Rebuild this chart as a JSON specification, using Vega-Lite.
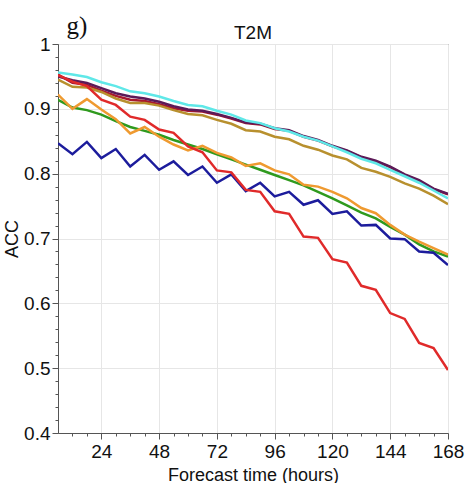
{
  "$schema": "https://vega.github.io/schema/vega-lite/v6.json",
  "autosize": "none",
  "width": 390,
  "height": 389,
  "padding": {"left": 58, "top": 44, "right": 26, "bottom": 50},
  "background": "white",
  "config": {
    "view": {"stroke": "#555555", "strokeWidth": 1},
    "font": "Liberation Sans"
  },
  "title": {"text": "T2M", "font": "Liberation Sans", "fontSize": 19, "fontWeight": "normal", "color": "#111111", "anchor": "middle", "offset": -30},
  "data": {"values": [
    {"s":"darkred","h":6,"v":0.953},{"s":"darkred","h":12,"v":0.940},{"s":"darkred","h":18,"v":0.937},{"s":"darkred","h":24,"v":0.928},{"s":"darkred","h":30,"v":0.920},{"s":"darkred","h":36,"v":0.914},{"s":"darkred","h":42,"v":0.912},{"s":"darkred","h":48,"v":0.907},{"s":"darkred","h":54,"v":0.901},{"s":"darkred","h":60,"v":0.897},{"s":"darkred","h":66,"v":0.896},{"s":"darkred","h":72,"v":0.891},{"s":"darkred","h":78,"v":0.885},{"s":"darkred","h":84,"v":0.878},{"s":"darkred","h":90,"v":0.876},{"s":"darkred","h":96,"v":0.869},{"s":"darkred","h":102,"v":0.866},{"s":"darkred","h":108,"v":0.857},{"s":"darkred","h":114,"v":0.851},{"s":"darkred","h":120,"v":0.842},{"s":"darkred","h":126,"v":0.835},{"s":"darkred","h":132,"v":0.825},{"s":"darkred","h":138,"v":0.819},{"s":"darkred","h":144,"v":0.810},{"s":"darkred","h":150,"v":0.798},{"s":"darkred","h":156,"v":0.789},{"s":"darkred","h":162,"v":0.776},{"s":"darkred","h":168,"v":0.768},
    {"s":"gold","h":6,"v":0.945},{"s":"gold","h":12,"v":0.934},{"s":"gold","h":18,"v":0.933},{"s":"gold","h":24,"v":0.926},{"s":"gold","h":30,"v":0.916},{"s":"gold","h":36,"v":0.909},{"s":"gold","h":42,"v":0.909},{"s":"gold","h":48,"v":0.905},{"s":"gold","h":54,"v":0.898},{"s":"gold","h":60,"v":0.892},{"s":"gold","h":66,"v":0.890},{"s":"gold","h":72,"v":0.883},{"s":"gold","h":78,"v":0.877},{"s":"gold","h":84,"v":0.867},{"s":"gold","h":90,"v":0.865},{"s":"gold","h":96,"v":0.857},{"s":"gold","h":102,"v":0.853},{"s":"gold","h":108,"v":0.843},{"s":"gold","h":114,"v":0.837},{"s":"gold","h":120,"v":0.828},{"s":"gold","h":126,"v":0.822},{"s":"gold","h":132,"v":0.809},{"s":"gold","h":138,"v":0.803},{"s":"gold","h":144,"v":0.795},{"s":"gold","h":150,"v":0.785},{"s":"gold","h":156,"v":0.777},{"s":"gold","h":162,"v":0.766},{"s":"gold","h":168,"v":0.753},
    {"s":"purple","h":6,"v":0.950},{"s":"purple","h":12,"v":0.944},{"s":"purple","h":18,"v":0.940},{"s":"purple","h":24,"v":0.932},{"s":"purple","h":30,"v":0.924},{"s":"purple","h":36,"v":0.919},{"s":"purple","h":42,"v":0.916},{"s":"purple","h":48,"v":0.911},{"s":"purple","h":54,"v":0.904},{"s":"purple","h":60,"v":0.899},{"s":"purple","h":66,"v":0.897},{"s":"purple","h":72,"v":0.892},{"s":"purple","h":78,"v":0.886},{"s":"purple","h":84,"v":0.879},{"s":"purple","h":90,"v":0.877},{"s":"purple","h":96,"v":0.870},{"s":"purple","h":102,"v":0.867},{"s":"purple","h":108,"v":0.858},{"s":"purple","h":114,"v":0.852},{"s":"purple","h":120,"v":0.843},{"s":"purple","h":126,"v":0.836},{"s":"purple","h":132,"v":0.826},{"s":"purple","h":138,"v":0.820},{"s":"purple","h":144,"v":0.811},{"s":"purple","h":150,"v":0.799},{"s":"purple","h":156,"v":0.790},{"s":"purple","h":162,"v":0.777},{"s":"purple","h":168,"v":0.769},
    {"s":"cyan","h":6,"v":0.956},{"s":"cyan","h":12,"v":0.953},{"s":"cyan","h":18,"v":0.949},{"s":"cyan","h":24,"v":0.941},{"s":"cyan","h":30,"v":0.935},{"s":"cyan","h":36,"v":0.927},{"s":"cyan","h":42,"v":0.924},{"s":"cyan","h":48,"v":0.919},{"s":"cyan","h":54,"v":0.912},{"s":"cyan","h":60,"v":0.906},{"s":"cyan","h":66,"v":0.904},{"s":"cyan","h":72,"v":0.897},{"s":"cyan","h":78,"v":0.891},{"s":"cyan","h":84,"v":0.882},{"s":"cyan","h":90,"v":0.878},{"s":"cyan","h":96,"v":0.870},{"s":"cyan","h":102,"v":0.865},{"s":"cyan","h":108,"v":0.857},{"s":"cyan","h":114,"v":0.851},{"s":"cyan","h":120,"v":0.842},{"s":"cyan","h":126,"v":0.833},{"s":"cyan","h":132,"v":0.823},{"s":"cyan","h":138,"v":0.816},{"s":"cyan","h":144,"v":0.806},{"s":"cyan","h":150,"v":0.796},{"s":"cyan","h":156,"v":0.786},{"s":"cyan","h":162,"v":0.774},{"s":"cyan","h":168,"v":0.762},
    {"s":"green","h":6,"v":0.914},{"s":"green","h":12,"v":0.902},{"s":"green","h":18,"v":0.898},{"s":"green","h":24,"v":0.891},{"s":"green","h":30,"v":0.881},{"s":"green","h":36,"v":0.872},{"s":"green","h":42,"v":0.866},{"s":"green","h":48,"v":0.860},{"s":"green","h":54,"v":0.852},{"s":"green","h":60,"v":0.845},{"s":"green","h":66,"v":0.838},{"s":"green","h":72,"v":0.830},{"s":"green","h":78,"v":0.822},{"s":"green","h":84,"v":0.814},{"s":"green","h":90,"v":0.806},{"s":"green","h":96,"v":0.798},{"s":"green","h":102,"v":0.790},{"s":"green","h":108,"v":0.782},{"s":"green","h":114,"v":0.772},{"s":"green","h":120,"v":0.762},{"s":"green","h":126,"v":0.751},{"s":"green","h":132,"v":0.740},{"s":"green","h":138,"v":0.731},{"s":"green","h":144,"v":0.718},{"s":"green","h":150,"v":0.706},{"s":"green","h":156,"v":0.691},{"s":"green","h":162,"v":0.680},{"s":"green","h":168,"v":0.672},
    {"s":"orange","h":6,"v":0.922},{"s":"orange","h":12,"v":0.900},{"s":"orange","h":18,"v":0.915},{"s":"orange","h":24,"v":0.899},{"s":"orange","h":30,"v":0.884},{"s":"orange","h":36,"v":0.862},{"s":"orange","h":42,"v":0.872},{"s":"orange","h":48,"v":0.857},{"s":"orange","h":54,"v":0.845},{"s":"orange","h":60,"v":0.836},{"s":"orange","h":66,"v":0.843},{"s":"orange","h":72,"v":0.832},{"s":"orange","h":78,"v":0.825},{"s":"orange","h":84,"v":0.812},{"s":"orange","h":90,"v":0.816},{"s":"orange","h":96,"v":0.805},{"s":"orange","h":102,"v":0.799},{"s":"orange","h":108,"v":0.783},{"s":"orange","h":114,"v":0.780},{"s":"orange","h":120,"v":0.772},{"s":"orange","h":126,"v":0.762},{"s":"orange","h":132,"v":0.747},{"s":"orange","h":138,"v":0.739},{"s":"orange","h":144,"v":0.721},{"s":"orange","h":150,"v":0.706},{"s":"orange","h":156,"v":0.695},{"s":"orange","h":162,"v":0.685},{"s":"orange","h":168,"v":0.675},
    {"s":"blue","h":6,"v":0.847},{"s":"blue","h":12,"v":0.830},{"s":"blue","h":18,"v":0.849},{"s":"blue","h":24,"v":0.824},{"s":"blue","h":30,"v":0.838},{"s":"blue","h":36,"v":0.811},{"s":"blue","h":42,"v":0.829},{"s":"blue","h":48,"v":0.806},{"s":"blue","h":54,"v":0.819},{"s":"blue","h":60,"v":0.798},{"s":"blue","h":66,"v":0.811},{"s":"blue","h":72,"v":0.786},{"s":"blue","h":78,"v":0.799},{"s":"blue","h":84,"v":0.773},{"s":"blue","h":90,"v":0.786},{"s":"blue","h":96,"v":0.765},{"s":"blue","h":102,"v":0.772},{"s":"blue","h":108,"v":0.752},{"s":"blue","h":114,"v":0.759},{"s":"blue","h":120,"v":0.738},{"s":"blue","h":126,"v":0.742},{"s":"blue","h":132,"v":0.720},{"s":"blue","h":138,"v":0.721},{"s":"blue","h":144,"v":0.700},{"s":"blue","h":150,"v":0.699},{"s":"blue","h":156,"v":0.680},{"s":"blue","h":162,"v":0.678},{"s":"blue","h":168,"v":0.659},
    {"s":"red","h":6,"v":0.952},{"s":"red","h":12,"v":0.942},{"s":"red","h":18,"v":0.935},{"s":"red","h":24,"v":0.914},{"s":"red","h":30,"v":0.906},{"s":"red","h":36,"v":0.888},{"s":"red","h":42,"v":0.883},{"s":"red","h":48,"v":0.868},{"s":"red","h":54,"v":0.863},{"s":"red","h":60,"v":0.842},{"s":"red","h":66,"v":0.833},{"s":"red","h":72,"v":0.805},{"s":"red","h":78,"v":0.802},{"s":"red","h":84,"v":0.775},{"s":"red","h":90,"v":0.772},{"s":"red","h":96,"v":0.742},{"s":"red","h":102,"v":0.738},{"s":"red","h":108,"v":0.703},{"s":"red","h":114,"v":0.701},{"s":"red","h":120,"v":0.668},{"s":"red","h":126,"v":0.663},{"s":"red","h":132,"v":0.627},{"s":"red","h":138,"v":0.621},{"s":"red","h":144,"v":0.585},{"s":"red","h":150,"v":0.576},{"s":"red","h":156,"v":0.539},{"s":"red","h":162,"v":0.531},{"s":"red","h":168,"v":0.497}
  ]},
  "encoding": {
    "y": {
      "field": "v", "type": "quantitative",
      "scale": {"domain": [0.4, 1], "nice": false, "zero": false},
      "axis": {
        "title": "ACC",
        "titleFont": "Liberation Sans", "titleFontSize": 18, "titleFontWeight": "normal", "titleColor": "#111111", "titlePadding": 2,
        "values": [0.4,0.42,0.44,0.46,0.48,0.5,0.52,0.54,0.56,0.58,0.6,0.62,0.64,0.66,0.68,0.7,0.72,0.74,0.76,0.78,0.8,0.82,0.84,0.86,0.88,0.9,0.92,0.94,0.96,0.98,1],
        "labelExpr": "abs(datum.value*10 - round(datum.value*10)) < 0.01 ? format(datum.value, '.1~f') : ''",
        "labelFont": "Liberation Sans", "labelFontSize": 19, "labelColor": "#111111", "labelPadding": 2, "labelOverlap": false,
        "labelBound": false, "labelFlush": false,
        "tickColor": "#555555", "tickWidth": 1,
        "tickSize": {"condition": {"test": "abs(datum.value*10 - round(datum.value*10)) < 0.01", "value": 6}, "value": 3},
        "domainColor": "#555555",
        "grid": true, "gridColor": "#e6e6e6", "gridWidth": 1,
        "gridOpacity": {"condition": {"test": "abs(datum.value*10 - round(datum.value*10)) < 0.01", "value": 1}, "value": 0}
      }
    },
    "color": {
      "field": "s", "type": "nominal", "legend": null,
      "scale": {
        "domain": ["darkred","gold","purple","cyan","green","orange","blue","red"],
        "range": ["#a8182e","#b8902e","#5c1a58","#5fe8e8","#2f9a1e","#ef9a30","#1c1c9c","#e02a2a"]
      }
    }
  },
  "layer": [
    {
      "transform": [{"filter": "datum.s !== 'red'"}],
      "mark": {"type": "line", "strokeWidth": 2.5, "clip": true},
      "encoding": {
        "x": {
          "field": "h", "type": "quantitative",
          "scale": {"domain": [6, 168], "nice": false, "zero": false},
          "axis": {
            "orient": "bottom",
            "title": "Forecast time (hours)",
            "titleFont": "Liberation Sans", "titleFontSize": 18, "titleFontWeight": "normal", "titleColor": "#111111", "titlePadding": 5,
            "values": [12,18,24,30,36,42,48,54,60,66,72,78,84,90,96,102,108,114,120,126,132,138,144,150,156,162,168],
            "labelExpr": "datum.value % 24 === 0 ? datum.value : ''",
            "labelFont": "Liberation Sans", "labelFontSize": 19, "labelColor": "#111111", "labelPadding": 3, "labelOverlap": false,
            "labelBound": false, "labelFlush": false,
            "tickColor": "#555555", "tickWidth": 1,
            "tickSize": {"condition": {"test": "datum.value % 24 === 0", "value": 6}, "value": 3},
            "domainColor": "#555555",
            "grid": true, "gridColor": "#e6e6e6", "gridWidth": 1,
            "gridOpacity": {"condition": {"test": "datum.value % 24 === 0", "value": 1}, "value": 0}
          }
        }
      }
    },
    {
      "transform": [{"filter": "datum.s === 'red'"}],
      "mark": {"type": "line", "strokeWidth": 2.5, "clip": true},
      "encoding": {
        "x": {
          "field": "h", "type": "quantitative",
          "axis": {
            "orient": "top",
            "title": "g)",
            "titleFont": "Liberation Serif", "titleFontSize": 25, "titleFontWeight": "normal", "titleColor": "#111111",
            "titleAnchor": "start", "titleAlign": "left", "titleBaseline": "alphabetic",
            "titleX": 8, "titleY": -11,
            "labels": false, "ticks": false, "domain": false, "grid": false
          }
        }
      }
    }
  ],
  "resolve": {"axis": {"x": "independent"}, "scale": {"x": "shared"}}
}
